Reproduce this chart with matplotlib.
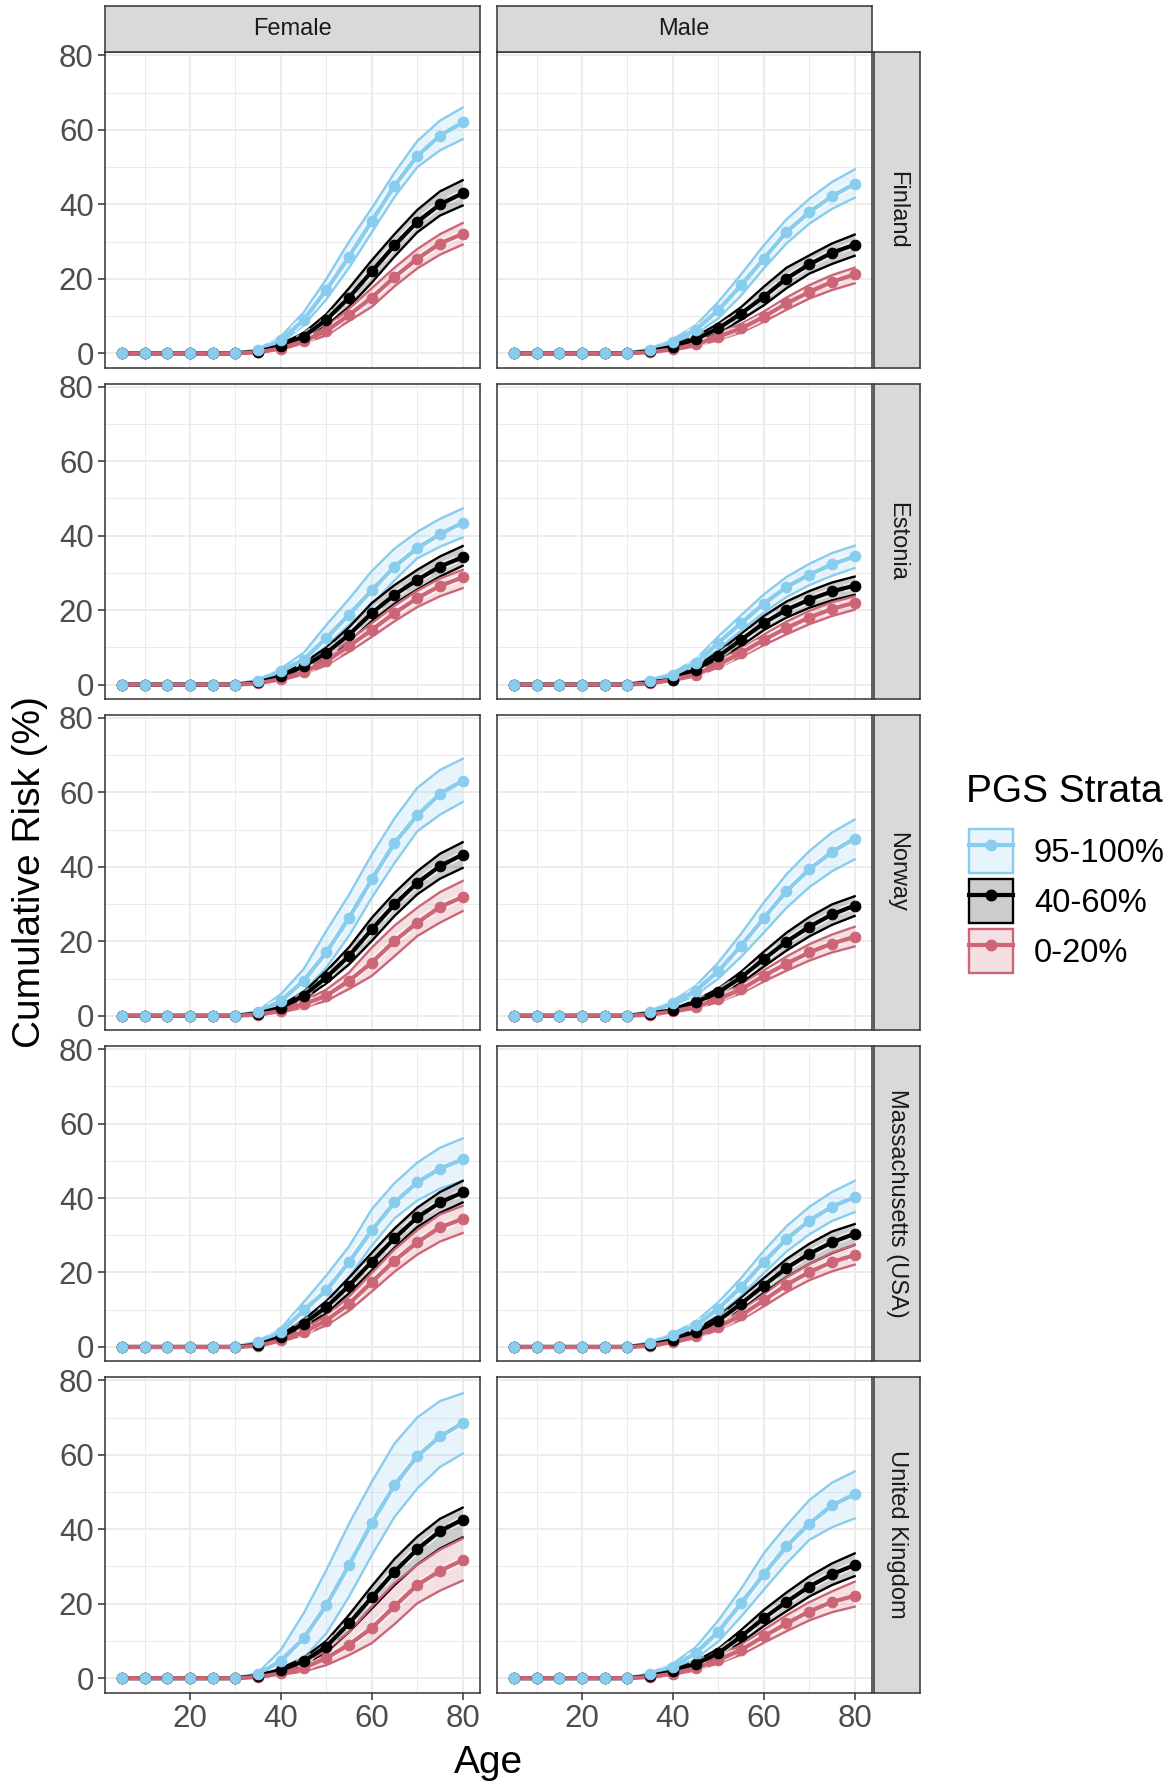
import matplotlib
matplotlib.use('Agg')
import matplotlib.pyplot as plt
from matplotlib.patches import Patch
from matplotlib.lines import Line2D
from matplotlib.legend_handler import HandlerTuple
from matplotlib.colors import to_rgba

plt.rcParams['font.family'] = ['Liberation Sans', 'DejaVu Sans']

# ---------------- data ----------------
ages = [5, 10, 15, 20, 25, 30, 35, 40, 45, 50, 55, 60, 65, 70, 75, 80]
sexes = ['Female', 'Male']
countries = ['Finland', 'Estonia', 'Norway', 'Massachusetts (USA)', 'United Kingdom']
strata = ['95-100%', '40-60%', '0-20%']
strata_colors = ['#88CCEE', '#000000', '#CC6677']

# Finland, Female
fin_f_top_mid = [0, 0, 0, 0, 0, 0, 0.8, 3.5, 9, 17, 26, 35.5, 45, 53, 58.5, 62]
fin_f_top_lo = [0, 0, 0, 0, 0, 0, 0.5, 2.8, 7.5, 14.5, 23, 32.5, 42, 50, 54.5, 57.5]
fin_f_top_hi = [0, 0, 0, 0, 0, 0, 1.2, 4.5, 11, 20, 30, 39, 48.5, 57, 62.5, 66]
fin_f_med_mid = [0, 0, 0, 0, 0, 0, 0.5, 2, 4.5, 9, 15, 22, 29, 35.3, 40, 43]
fin_f_med_lo = [0, 0, 0, 0, 0, 0, 0.3, 1.5, 3.5, 7.5, 12.5, 19, 26, 32.5, 37, 39.7]
fin_f_med_hi = [0, 0, 0, 0, 0, 0, 0.7, 2.5, 5.5, 10.5, 17.5, 25, 32, 38.5, 43.5, 46.5]
fin_f_low_mid = [0, 0, 0, 0, 0, 0, 0.3, 1.3, 3.3, 6, 10.3, 15, 20.5, 25.4, 29.5, 32.1]
fin_f_low_lo = [0, 0, 0, 0, 0, 0, 0.2, 1, 2.7, 4.8, 8.7, 12.5, 18, 22.8, 26.5, 29.2]
fin_f_low_hi = [0, 0, 0, 0, 0, 0, 0.5, 1.6, 4, 7, 12, 17.5, 23, 28, 32, 35]
# Finland, Male
fin_m_top_mid = [0, 0, 0, 0, 0, 0, 1.0, 3.1, 6.3, 11.6, 18.3, 25.4, 32.6, 37.9, 42.2, 45.5]
fin_m_top_lo = [0, 0, 0, 0, 0, 0, 0.7, 2.5, 5.2, 9.4, 15.5, 22.8, 29.5, 34.8, 38.8, 41.8]
fin_m_top_hi = [0, 0, 0, 0, 0, 0, 1.3, 3.8, 7.5, 13.8, 21.2, 29, 36, 41.5, 46, 49.4]
fin_m_med_mid = [0, 0, 0, 0, 0, 0, 0.6, 1.8, 3.8, 6.7, 10.7, 15.2, 20.1, 23.9, 27, 29.2]
fin_m_med_lo = [0, 0, 0, 0, 0, 0, 0.4, 1.4, 3.1, 5.4, 9, 12.9, 17.5, 21.4, 24, 26.2]
fin_m_med_hi = [0, 0, 0, 0, 0, 0, 0.8, 2.2, 4.5, 8, 12.4, 17.9, 23, 26.3, 29.5, 31.9]
fin_m_low_mid = [0, 0, 0, 0, 0, 0, 0.3, 1.1, 2.4, 4.5, 6.7, 9.8, 13.4, 16.5, 19.2, 21.2]
fin_m_low_lo = [0, 0, 0, 0, 0, 0, 0.2, 0.8, 1.9, 3.6, 5.6, 8.5, 11.7, 14.7, 17, 18.8]
fin_m_low_hi = [0, 0, 0, 0, 0, 0, 0.4, 1.4, 2.9, 5.3, 7.9, 11.2, 15, 18.3, 21, 23]

# Estonia, Female
est_f_top_mid = [0, 0, 0, 0, 0, 0, 1, 3.6, 6.7, 12.5, 18.8, 25.3, 31.7, 36.6, 40.4, 43.5]
est_f_top_lo = [0, 0, 0, 0, 0, 0, 0.7, 3, 5.7, 10.3, 16, 21.4, 28, 33.9, 37, 39.5]
est_f_top_hi = [0, 0, 0, 0, 0, 0, 1.3, 4.3, 8.5, 16, 23, 30.5, 36.5, 41, 44.5, 47.3]
est_f_med_mid = [0, 0, 0, 0, 0, 0, 0.6, 2.2, 4.9, 8.5, 13.4, 19.2, 24.1, 28.1, 31.7, 34.2]
est_f_med_lo = [0, 0, 0, 0, 0, 0, 0.4, 1.8, 4, 7.2, 11.5, 17, 21.7, 25.5, 29, 31.9]
est_f_med_hi = [0, 0, 0, 0, 0, 0, 0.8, 2.6, 5.8, 9.9, 15.4, 21.9, 26.7, 30.8, 34.4, 37.2]
est_f_low_mid = [0, 0, 0, 0, 0, 0, 0.3, 1.5, 3.3, 6.3, 10.3, 14.7, 19.2, 23.2, 26.5, 28.8]
est_f_low_lo = [0, 0, 0, 0, 0, 0, 0.2, 1.1, 2.7, 5.2, 8.8, 12.8, 17, 20.8, 23.7, 25.9]
est_f_low_hi = [0, 0, 0, 0, 0, 0, 0.4, 1.8, 3.9, 7.3, 11.8, 16.5, 21.2, 25.2, 28.5, 30.8]
# Estonia, Male
est_m_top_mid = [0, 0, 0, 0, 0, 0, 1, 2.7, 5.8, 11.2, 16.5, 21.7, 26.2, 29.5, 32.3, 34.4]
est_m_top_lo = [0, 0, 0, 0, 0, 0, 0.7, 2.2, 4.9, 9.6, 14.5, 19.3, 23.5, 26.7, 29.2, 31.3]
est_m_top_hi = [0, 0, 0, 0, 0, 0, 1.3, 3.2, 6.8, 12.9, 18.6, 24.2, 28.9, 32.4, 35.3, 37.3]
est_m_med_mid = [0, 0, 0, 0, 0, 0, 0.6, 1.3, 4, 7.6, 12, 16.5, 20.1, 22.8, 25, 26.6]
est_m_med_lo = [0, 0, 0, 0, 0, 0, 0.4, 1, 3.3, 6.5, 10.4, 14.6, 18, 20.6, 22.6, 24.1]
est_m_med_hi = [0, 0, 0, 0, 0, 0, 0.8, 1.7, 4.7, 8.8, 13.6, 18.4, 22.3, 25.1, 27.4, 29]
est_m_low_mid = [0, 0, 0, 0, 0, 0, 0.3, 1.3, 2.7, 5.4, 8.5, 12, 15.2, 18, 20.3, 22]
est_m_low_lo = [0, 0, 0, 0, 0, 0, 0.2, 1, 2.2, 4.6, 7.4, 10.6, 13.5, 16.2, 18.4, 20.1]
est_m_low_hi = [0, 0, 0, 0, 0, 0, 0.4, 1.6, 3.2, 6.2, 9.6, 13.4, 16.9, 19.8, 22.1, 23.7]

# Norway, Female
nor_f_top_mid = [0, 0, 0, 0, 0, 0, 1, 4, 9.4, 17, 26.3, 36.6, 46.4, 53.8, 59.6, 63.1]
nor_f_top_lo = [0, 0, 0, 0, 0, 0, 0.6, 2.7, 6.5, 12.9, 21.5, 31.7, 41, 49.5, 54, 57.4]
nor_f_top_hi = [0, 0, 0, 0, 0, 0, 1.4, 5.8, 12.5, 22.8, 32.5, 43.3, 53, 61.2, 66, 69]
nor_f_med_mid = [0, 0, 0, 0, 0, 0, 0.6, 2.2, 5.4, 10.3, 16.1, 23.2, 29.9, 35.7, 40.2, 43.3]
nor_f_med_lo = [0, 0, 0, 0, 0, 0, 0.4, 1.7, 4.4, 8.7, 13.8, 20.1, 26.8, 32.6, 36.8, 39.7]
nor_f_med_hi = [0, 0, 0, 0, 0, 0, 0.8, 2.7, 6.4, 12, 18.4, 26.3, 33, 38.8, 43.5, 46.6]
nor_f_low_mid = [0, 0, 0, 0, 0, 0, 0.3, 1.3, 3.1, 5.4, 9.4, 14.3, 20.1, 25, 29.2, 31.9]
nor_f_low_lo = [0, 0, 0, 0, 0, 0, 0.2, 0.9, 2.2, 4, 7.2, 10.7, 16, 21.4, 25, 28.1]
nor_f_low_hi = [0, 0, 0, 0, 0, 0, 0.4, 1.7, 4, 7, 11.6, 18.3, 24.2, 29, 33.2, 36.2]
# Norway, Male
nor_m_top_mid = [0, 0, 0, 0, 0, 0, 1, 3.3, 6.7, 12, 18.8, 26.2, 33.5, 39.3, 44, 47.6]
nor_m_top_lo = [0, 0, 0, 0, 0, 0, 0.7, 2.7, 5.5, 10, 15.8, 22.3, 29, 34.5, 38.8, 42]
nor_m_top_hi = [0, 0, 0, 0, 0, 0, 1.3, 4, 8, 14.3, 22, 30.4, 38, 44.2, 49.2, 52.7]
nor_m_med_mid = [0, 0, 0, 0, 0, 0, 0.6, 1.5, 3.6, 6.3, 10.3, 15.2, 19.9, 23.9, 27.2, 29.6]
nor_m_med_lo = [0, 0, 0, 0, 0, 0, 0.4, 1.2, 3, 5.3, 8.8, 13.2, 17.5, 21.3, 24.4, 26.8]
nor_m_med_hi = [0, 0, 0, 0, 0, 0, 0.8, 1.8, 4.2, 7.3, 11.8, 17.2, 22.3, 26.5, 29.9, 32.1]
nor_m_low_mid = [0, 0, 0, 0, 0, 0, 0.3, 1.2, 2.4, 4.5, 7.1, 10.7, 14, 17, 19.4, 21.2]
nor_m_low_lo = [0, 0, 0, 0, 0, 0, 0.2, 0.9, 1.9, 3.7, 6, 9.2, 12.1, 14.8, 17, 18.6]
nor_m_low_hi = [0, 0, 0, 0, 0, 0, 0.4, 1.5, 2.9, 5.3, 8.2, 12.2, 15.9, 19.2, 21.8, 23.9]

# Massachusetts (USA), Female
mas_f_top_mid = [0, 0, 0, 0, 0, 0, 1.2, 4, 9.8, 15.2, 22.8, 31.3, 38.8, 44.2, 47.9, 50.4]
mas_f_top_lo = [0, 0, 0, 0, 0, 0, 0.8, 3, 7.5, 12, 18.8, 27.2, 34.5, 39.3, 42.5, 44.6]
mas_f_top_hi = [0, 0, 0, 0, 0, 0, 1.6, 5, 12, 19.2, 27, 37, 44, 49.5, 53.5, 56]
mas_f_med_mid = [0, 0, 0, 0, 0, 0, 0.6, 2.7, 6.3, 10.7, 16.5, 22.9, 29.2, 34.8, 38.8, 41.5]
mas_f_med_lo = [0, 0, 0, 0, 0, 0, 0.4, 2.2, 5.3, 9.1, 14.4, 20.5, 26.6, 32.2, 36, 38.8]
mas_f_med_hi = [0, 0, 0, 0, 0, 0, 0.8, 3.2, 7.3, 12.3, 18.6, 25.3, 31.8, 37.4, 41.6, 44.6]
mas_f_low_mid = [0, 0, 0, 0, 0, 0, 0.3, 1.8, 4, 7.1, 11.6, 17.4, 23.2, 28.1, 32.1, 34.4]
mas_f_low_lo = [0, 0, 0, 0, 0, 0, 0.2, 1.4, 3.2, 5.8, 9.7, 14.9, 20.2, 24.8, 28.3, 30.6]
mas_f_low_hi = [0, 0, 0, 0, 0, 0, 0.4, 2.2, 4.8, 8.4, 13.5, 19.9, 26.2, 31.4, 35.6, 37.9]
# Massachusetts (USA), Male
mas_m_top_mid = [0, 0, 0, 0, 0, 0, 1, 3.1, 5.8, 10.3, 16.1, 22.8, 29, 33.9, 37.7, 40.2]
mas_m_top_lo = [0, 0, 0, 0, 0, 0, 0.7, 2.5, 4.8, 8.6, 13.7, 19.8, 25.6, 30.2, 33.8, 36.2]
mas_m_top_hi = [0, 0, 0, 0, 0, 0, 1.3, 3.7, 6.8, 12, 18.5, 25.8, 32.4, 37.6, 41.6, 44.6]
mas_m_med_mid = [0, 0, 0, 0, 0, 0, 0.6, 1.8, 4, 7.1, 11.6, 16.5, 21.2, 25, 28.1, 30.4]
mas_m_med_lo = [0, 0, 0, 0, 0, 0, 0.4, 1.4, 3.3, 6, 10, 14.5, 18.8, 22.3, 25.2, 27.4]
mas_m_med_hi = [0, 0, 0, 0, 0, 0, 0.8, 2.2, 4.7, 8.2, 13.2, 18.5, 23.6, 27.7, 31, 33]
mas_m_low_mid = [0, 0, 0, 0, 0, 0, 0.3, 1.3, 2.9, 5.4, 8.5, 12.5, 16.7, 20.1, 22.8, 24.7]
mas_m_low_lo = [0, 0, 0, 0, 0, 0, 0.2, 1, 2.4, 4.6, 7.3, 10.9, 14.7, 17.9, 20.3, 22.1]
mas_m_low_hi = [0, 0, 0, 0, 0, 0, 0.4, 1.6, 3.4, 6.2, 9.7, 14.1, 18.7, 22.3, 25.3, 27.4]

# United Kingdom, Female
uk_f_top_mid = [0, 0, 0, 0, 0, 0, 1, 4.7, 10.7, 19.6, 30.4, 41.7, 51.8, 59.6, 64.9, 68.5]
uk_f_top_lo = [0, 0, 0, 0, 0, 0, 0.6, 2.2, 5.4, 12, 21.9, 33, 43.3, 50.9, 56.7, 60.3]
uk_f_top_hi = [0, 0, 0, 0, 0, 0, 1.5, 7.6, 17.4, 29, 41.5, 52.7, 63, 70, 74.4, 76.5]
uk_f_med_mid = [0, 0, 0, 0, 0, 0, 0.6, 2.2, 4.5, 8.5, 14.7, 21.7, 28.6, 34.6, 39.5, 42.6]
uk_f_med_lo = [0, 0, 0, 0, 0, 0, 0.4, 1.7, 3.6, 7, 12.4, 18.7, 25, 30.5, 34.8, 37.8]
uk_f_med_hi = [0, 0, 0, 0, 0, 0, 0.8, 2.7, 5.4, 10, 17, 24.7, 32, 38, 42.8, 45.8]
uk_f_low_mid = [0, 0, 0, 0, 0, 0, 0.3, 1.3, 2.7, 5.4, 9, 13.5, 19.3, 25, 28.8, 31.7]
uk_f_low_lo = [0, 0, 0, 0, 0, 0, 0.2, 0.9, 1.8, 3.5, 6.2, 9.4, 14.5, 20.1, 23.5, 26.2]
uk_f_low_hi = [0, 0, 0, 0, 0, 0, 0.4, 1.8, 3.8, 7.5, 12.5, 19.2, 25.5, 30.4, 34.5, 37.5]
# United Kingdom, Male
uk_m_top_mid = [0, 0, 0, 0, 0, 0, 1, 3.1, 6.7, 12.5, 20.1, 27.9, 35.4, 41.5, 46.4, 49.4]
uk_m_top_lo = [0, 0, 0, 0, 0, 0, 0.7, 2.5, 5.2, 9.8, 16.5, 23.7, 30.8, 37.1, 40.5, 42.9]
uk_m_top_hi = [0, 0, 0, 0, 0, 0, 1.4, 3.9, 8.3, 15.5, 24, 33.5, 41, 47.8, 52.5, 55.5]
uk_m_med_mid = [0, 0, 0, 0, 0, 0, 0.6, 1.8, 3.8, 6.7, 11.2, 16.1, 20.5, 24.6, 27.9, 30.4]
uk_m_med_lo = [0, 0, 0, 0, 0, 0, 0.4, 1.4, 3.1, 5.6, 9.6, 14, 18, 21.9, 25, 27.4]
uk_m_med_hi = [0, 0, 0, 0, 0, 0, 0.8, 2.2, 4.5, 7.9, 12.9, 18.3, 23, 27.3, 30.8, 33.5]
uk_m_low_mid = [0, 0, 0, 0, 0, 0, 0.3, 1.2, 2.7, 4.9, 7.6, 11.2, 14.7, 17.9, 20.5, 22.1]
uk_m_low_lo = [0, 0, 0, 0, 0, 0, 0.2, 0.9, 2.1, 4, 6.3, 9.5, 12.6, 15.5, 17.7, 19.2]
uk_m_low_hi = [0, 0, 0, 0, 0, 0, 0.4, 1.5, 3.3, 5.9, 8.9, 13, 16.9, 20.4, 23.3, 25.9]

g = globals()
prefixes = ['fin', 'est', 'nor', 'mas', 'uk']
sex_keys = ['f', 'm']
strata_keys = ['top', 'med', 'low']

# ---------------- layout ----------------
W, H = 1176, 1787
fig = plt.figure(figsize=(W / 100, H / 100), dpi=100)
fig.patch.set_facecolor('white')


def frac(x0, y0, w, h):
    return [x0 / W, 1 - (y0 + h) / H, w / W, h / H]


col_left = [104.8, 496.8]
pw = 374.9
ph = 315.4
row_step = 331.2
top0 = 52.3
DARK = '#333333'

for r, (country, pre) in enumerate(zip(countries, prefixes)):
    top = top0 + r * row_step
    for c, (sex, sk) in enumerate(zip(sexes, sex_keys)):
        ax = fig.add_axes(frac(col_left[c], top, pw, ph))
        ax.set_xlim(1.25, 83.75)
        ax.set_ylim(-3.85, 80.85)
        ax.set_xticks([20, 40, 60, 80])
        ax.set_xticks([10, 30, 50, 70], minor=True)
        ax.set_yticks([0, 20, 40, 60, 80])
        ax.set_yticks([10, 30, 50, 70], minor=True)
        ax.grid(which='major', color='#EBEBEB', lw=1.3)
        ax.grid(which='minor', color='#EBEBEB', lw=0.7)
        ax.set_axisbelow(True)
        for sp in ax.spines.values():
            sp.set_color(DARK)
            sp.set_linewidth(1.1)
        ax.tick_params(which='minor', length=0)
        ax.tick_params(which='major', length=5, width=1.1, color=DARK,
                       labelsize=22.5, labelcolor='#4D4D4D', pad=3)
        if c == 1:
            ax.tick_params(left=False, labelleft=False)
        if r < len(countries) - 1:
            ax.tick_params(bottom=False, labelbottom=False)

        # ribbons + lines
        for s, (stk, col) in enumerate(zip(strata_keys, strata_colors)):
            mid = g[f'{pre}_{sk}_{stk}_mid']
            lo = g[f'{pre}_{sk}_{stk}_lo']
            hi = g[f'{pre}_{sk}_{stk}_hi']
            ax.fill_between(ages, lo, hi, facecolor=to_rgba(col, 0.2),
                            edgecolor='none', zorder=2)
            ax.plot(ages, lo, color=col, lw=1.7, zorder=2.5)
            ax.plot(ages, hi, color=col, lw=1.7, zorder=2.5)
            ax.plot(ages, mid, color='white', lw=5.6, alpha=0.6,
                    dashes=(2.2, 1.6), zorder=2.8)
            ax.plot(ages, mid, color=col, lw=3.0, zorder=3 + 0.01 * s,
                    solid_capstyle='butt')
        # points (top stratum drawn last)
        for s in [2, 1, 0]:
            stk = strata_keys[s]
            col = strata_colors[s]
            mid = g[f'{pre}_{sk}_{stk}_mid']
            ax.plot(ages, mid, linestyle='none', marker='o', ms=7.6,
                    mfc=col, mec=col, mew=0.8, zorder=4 + 0.1 * (2 - s))

        # top strips
        if r == 0:
            sax = fig.add_axes(frac(col_left[c], 5.7, pw, top0 - 5.7))
            sax.set_facecolor('#D9D9D9')
            sax.set_xticks([])
            sax.set_yticks([])
            for sp in sax.spines.values():
                sp.set_color(DARK)
                sp.set_linewidth(1.1)
            sax.text(0.5, 0.5, sex, transform=sax.transAxes, ha='center',
                     va='center', fontsize=17, color='#1A1A1A')
    # right strip
    rax = fig.add_axes(frac(874.0, top, 45.6, ph))
    rax.set_facecolor('#D9D9D9')
    rax.set_xticks([])
    rax.set_yticks([])
    for sp in rax.spines.values():
        sp.set_color(DARK)
        sp.set_linewidth(1.1)
    rax.text(0.5, 0.5, country, transform=rax.transAxes, ha='center',
             va='center', rotation=-90, fontsize=17, color='#1A1A1A')

# axis titles
fig.text(488 / W, 1 - 1763 / H, 'Age', ha='center', va='center', fontsize=28)
fig.text(30 / W, 1 - 872 / H, 'Cumulative Risk (%)', ha='center', va='center',
         rotation=90, fontsize=28)

# legend
fig.text(966 / W, 1 - 792 / H, 'PGS Strata', ha='left', va='center',
         fontsize=28)
handles = []
for col in strata_colors:
    p = Patch(facecolor=to_rgba(col, 0.2), edgecolor=col, lw=1.7)
    ln = Line2D([], [], color=col, lw=3.0, marker='o', ms=7.6)
    handles.append((p, ln))
fig.legend(handles, strata, loc='upper left',
           bbox_to_anchor=(955.6 / W, 1 - 816 / H), borderaxespad=0,
           frameon=False, fontsize=23.6,
           handlelength=1.34, handleheight=1.69, labelspacing=0.18,
           handletextpad=0.65, numpoints=1,
           handler_map={tuple: HandlerTuple(ndivide=1, pad=0)})

fig.savefig('out.png', dpi=100, facecolor='white')
